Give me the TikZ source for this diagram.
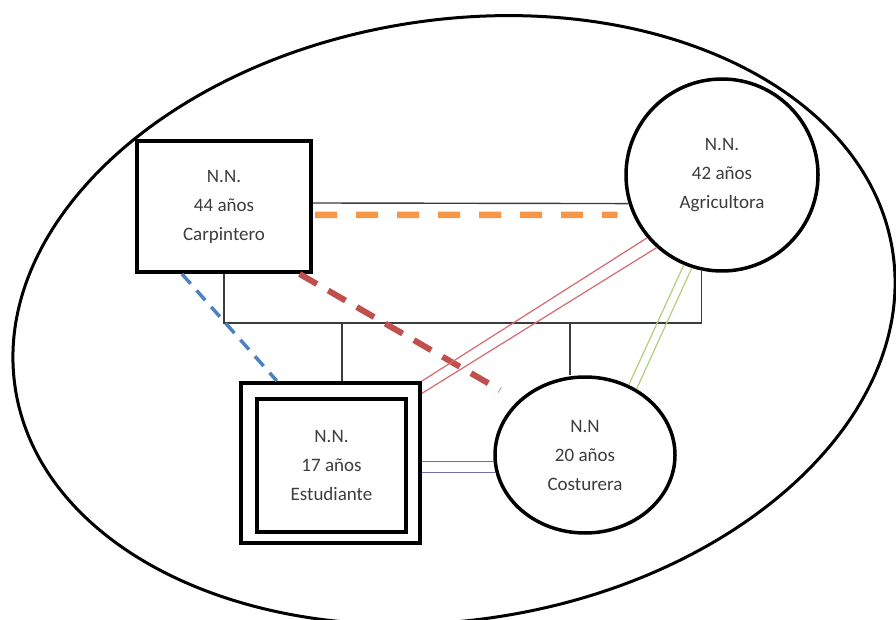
\documentclass[tikz,border=0pt]{standalone}
\usepackage{fontspec}
\setmainfont{Carlito}
\usetikzlibrary{shapes.geometric,calc}
\definecolor{orangeL}{RGB}{247,150,70}
\definecolor{redL}{RGB}{192,80,77}
\definecolor{blueL}{RGB}{79,129,189}
\definecolor{pinkL}{RGB}{215,105,110}
\definecolor{greenL}{RGB}{175,208,125}
\definecolor{purpleL}{RGB}{110,110,170}
\definecolor{inkL}{RGB}{60,60,60}
\begin{document}
\begin{tikzpicture}[x=1pt,y=1pt,
  lbl/.style={align=center,font=\fontsize{19}{29}\selectfont,text=inkL},
  boxnode/.style={lbl,draw=black,line width=4pt,inner sep=0pt},
  circnode/.style={lbl,draw=black,line width=3.5pt,circle,inner sep=0pt},
  ellnode/.style={lbl,draw=black,line width=3.5pt,ellipse,inner sep=0pt},
  thinline/.style={draw=inkL,line width=1.4pt},
  relline/.style={line width=1.2pt}]
\useasboundingbox (0,0) rectangle (896,619);
% outer household ellipse
\coordinate (hc) at (454,299);
\draw[line width=3pt,rotate around={9:(hc)}] (hc) ellipse [x radius=444pt, y radius=300pt];
% nodes
\node[boxnode,minimum width=174pt,minimum height=131pt] (carp) at (224,412.5) {N.N.\\44 años\\Carpintero};
\node[circnode,minimum size=192pt] (agr) at (722,444) {N.N.\\42 años\\Agricultora};
\node[draw=black,line width=4pt,minimum width=179pt,minimum height=160pt,inner sep=0pt] (est) at (330.5,156) {};
\node[boxnode,minimum width=149pt,minimum height=133pt] (esti) at (331.5,153.5) {N.N.\\17 años\\Estudiante};
\node[ellnode,minimum width=180pt,minimum height=156pt] (cost) at (585,164) {N.N\\20 años\\Costurera};
% genealogy lines
\coordinate (bar) at (0,296);
\coordinate (c1) at (342,296);
\coordinate (c2) at (570,296);
\draw[thinline] (carp.south) -- (carp.south |- bar) -- (agr.258 |- bar) -- (agr.258);
\draw[thinline] (c1) -- (c1 |- est.north);
\draw[thinline] (c2) -- (c2 |- cost.north);
\draw[thinline] ($(carp.east)+(0,3.5)$) -- (agr.197);
% relations
\draw[orangeL,line width=6.5pt,dash pattern=on 22pt off 19pt,shorten >=15pt] ($(carp.east)+(2,-8.5)$) -- (agr.204.6);
\coordinate (redend) at (500,229);
\draw[redL,line width=6pt,dash pattern=on 20pt off 13pt] ($(carp.south west)!0.925!(carp.south east)$) -- (redend);
\draw[blueL,line width=3.5pt,dash pattern=on 13pt off 9pt] ($(carp.south west)!0.264!(carp.south east)$) -- ($(est.north west)!0.207!(est.north east)$);
\draw[pinkL,relline] (est.north east) -- (agr.220);
\draw[pinkL,relline] ($(est.north east)!0.075!(est.south east)$) -- (agr.228);
\draw[greenL,relline] (agr.247) -- (cost.58);
\draw[greenL,relline] (agr.252) -- (cost.52);
\draw[purpleL,relline] (est.east |- cost.184) -- (cost.184);
\draw[purpleL,relline] (est.east |- cost.191) -- (cost.191);
\end{tikzpicture}
\end{document}
